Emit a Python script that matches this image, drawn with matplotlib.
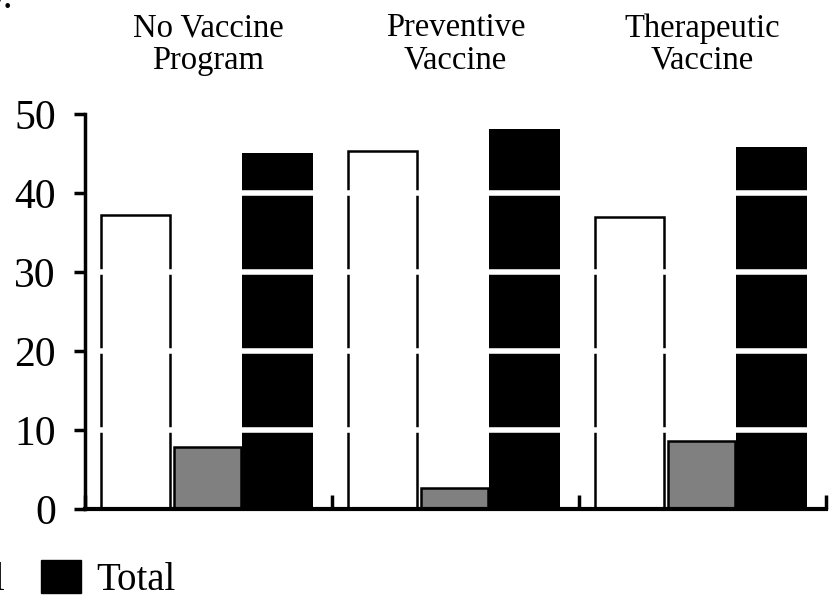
import numpy as np
import matplotlib
matplotlib.use("Agg")
import matplotlib.pyplot as plt
from matplotlib.patches import Patch
import matplotlib.transforms as mtransforms

plt.rcParams['font.family'] = ['Liberation Serif', 'DejaVu Serif']

groups = ["No Vaccine\nProgram", "Preventive\nVaccine", "Therapeutic\nVaccine"]
series_a = [37.2, 45.3, 37.0]   # white bars
series_b = [7.8, 2.7, 8.6]      # gray bars
total = [45.1, 48.1, 45.8]      # black bars
y_ticks = [0, 10, 20, 30, 40, 50]

fig = plt.figure(figsize=(8.4, 6), dpi=100)
ax = fig.add_axes([85 / 840, 1 - 509 / 600, (826 - 85) / 840, (509 - 114) / 600])

x = np.arange(len(groups))
w = 0.28
ax.bar(x + 0.205, series_a, w, color='white', edgecolor='black', linewidth=1.8, zorder=2)
ax.bar(x + 0.497, series_b, w - 0.01, color='#808080', edgecolor='black', linewidth=1.8, zorder=2)
ax.bar(x + 0.78, total, w + 0.01, color='black', edgecolor='black', linewidth=0, zorder=2)

# white grid lines drawn across the bars
for yv in y_ticks[1:-1]:
    ax.axhline(yv, color='white', linewidth=4, zorder=3)

ax.set_xlim(0, 3)
ax.set_ylim(0, 50)
ax.set_yticks(y_ticks)
ax.set_yticklabels([str(v) for v in y_ticks], fontsize=30)
ax.set_xticks([0, 1, 2, 3])
ax.set_xticklabels([])
ax.tick_params(axis='y', direction='out', length=8, width=2.5, pad=13)
ax.tick_params(axis='x', direction='in', length=10, width=2.5)
for s in ['top', 'right']:
    ax.spines[s].set_visible(False)
ax.spines['left'].set_linewidth(2.5)
ax.spines['bottom'].set_linewidth(3)
for s in ['left', 'bottom']:
    ax.spines[s].set_zorder(4)

trans = mtransforms.blended_transform_factory(ax.transData, fig.transFigure)
for i, g in enumerate(groups):
    ax.text(i + 0.5, 1 - 13 / 600, g, transform=trans, ha='center', va='top',
            fontsize=23.5, linespacing=1.08)

# cropped remnants of text at the left edge
fig.text(13 / 840, 1 - 8 / 600, "y.", ha='right', va='baseline', fontsize=28)
fig.text(4 / 840, 1 - 590 / 600, "l", ha='right', va='baseline', fontsize=28)

fig.legend(handles=[Patch(facecolor='black', edgecolor='black')], labels=['Total'],
           loc='lower left', bbox_to_anchor=(6 / 840, -34 / 600), frameon=False,
           fontsize=28, handlelength=1.03, handleheight=0.95, handletextpad=0.4)

fig.savefig("out.png", dpi=100)
